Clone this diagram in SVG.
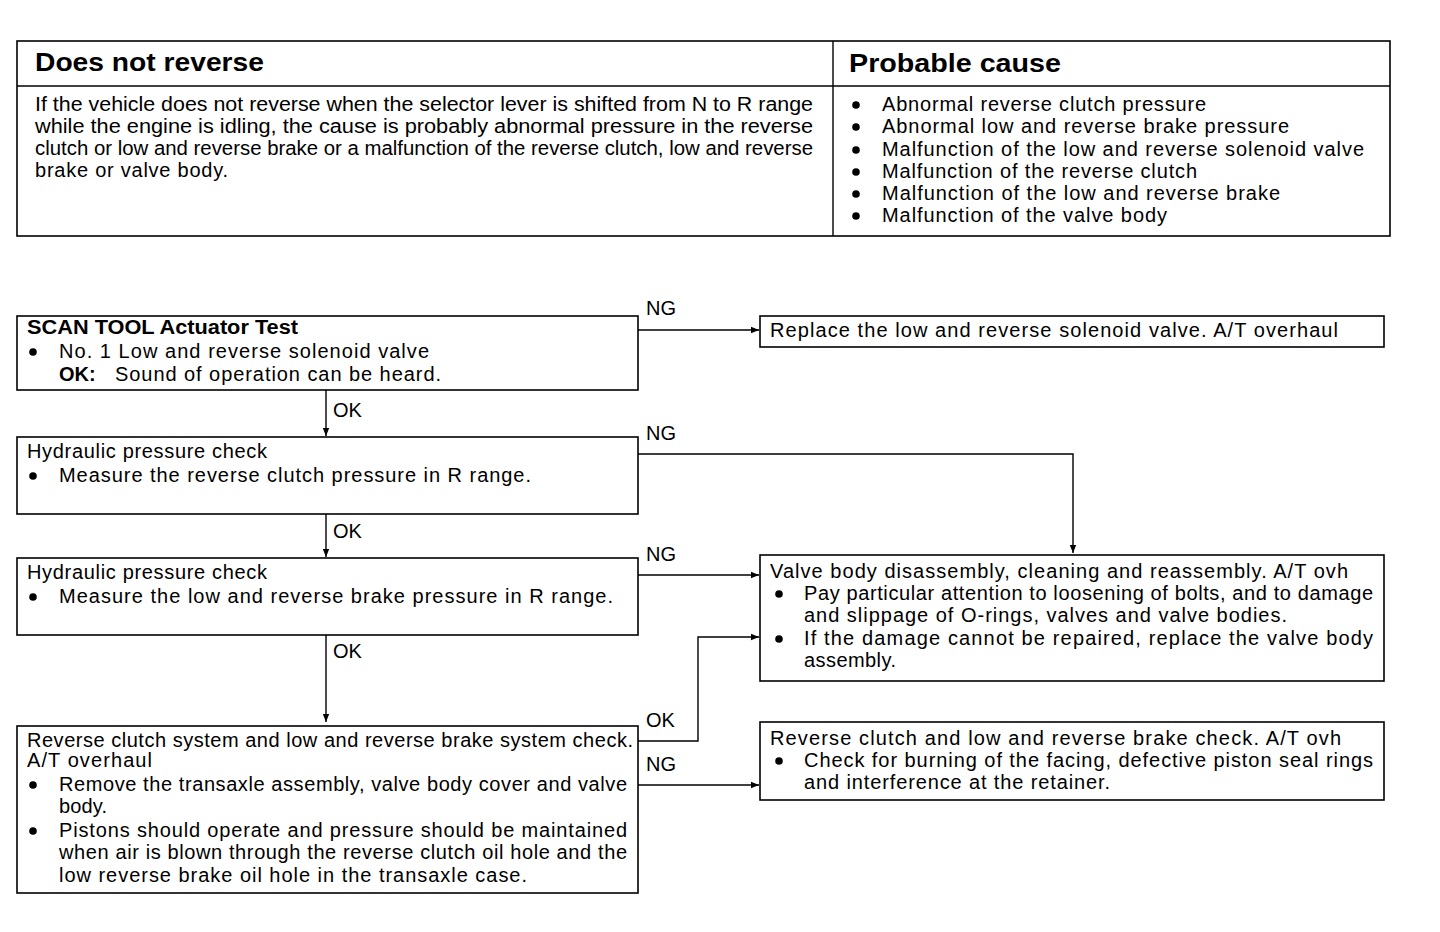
<svg xmlns="http://www.w3.org/2000/svg" width="1440" height="932" viewBox="0 0 1440 932">
<style>
text{font-family:"Liberation Sans",Arial,sans-serif;font-size:20px;fill:#000}
.h{font-size:25px;font-weight:bold}
.b{font-weight:bold}
.box{fill:#fff;stroke:#000;stroke-width:1.6}
.ln{fill:none;stroke:#000;stroke-width:1.4}
.dot{fill:#000}
</style>
<defs>
<marker id="ah" viewBox="0 0 10 10" refX="10" refY="5" markerWidth="13" markerHeight="8" markerUnits="userSpaceOnUse" orient="auto">
<path d="M0,1 L10,5 L0,9 Z" fill="#000"/>
</marker>
</defs>
<rect width="1440" height="932" fill="#fff"/>

<g id="table">
<rect class="box" x="17" y="41" width="1373" height="195" stroke-width="2"/>
<line class="ln" x1="17" y1="86" x2="1390" y2="86" stroke-width="2"/>
<line class="ln" x1="833" y1="41" x2="833" y2="236"/>
<text class="h" x="35" y="71" textLength="229" lengthAdjust="spacingAndGlyphs">Does not reverse</text>
<text class="h" x="849" y="72" textLength="212" lengthAdjust="spacingAndGlyphs">Probable cause</text>
<text x="35" y="111" textLength="778" lengthAdjust="spacingAndGlyphs">If the vehicle does not reverse when the selector lever is shifted from N to R range</text>
<text x="35" y="133" textLength="778" lengthAdjust="spacingAndGlyphs">while the engine is idling, the cause is probably abnormal pressure in the reverse</text>
<text x="35" y="155" textLength="778" lengthAdjust="spacingAndGlyphs">clutch or low and reverse brake or a malfunction of the reverse clutch, low and reverse</text>
<text x="35" y="177" textLength="193" lengthAdjust="spacing">brake or valve body.</text>
<circle class="dot" cx="856" cy="105" r="3.8"/>
<circle class="dot" cx="856" cy="127" r="3.8"/>
<circle class="dot" cx="856" cy="150" r="3.8"/>
<circle class="dot" cx="856" cy="172" r="3.8"/>
<circle class="dot" cx="856" cy="194" r="3.8"/>
<circle class="dot" cx="856" cy="216" r="3.8"/>
<text x="882" y="111" textLength="324" lengthAdjust="spacing">Abnormal reverse clutch pressure</text>
<text x="882" y="133" textLength="407" lengthAdjust="spacing">Abnormal low and reverse brake pressure</text>
<text x="882" y="156" textLength="482" lengthAdjust="spacing">Malfunction of the low and reverse solenoid valve</text>
<text x="882" y="178" textLength="315" lengthAdjust="spacing">Malfunction of the reverse clutch</text>
<text x="882" y="200" textLength="398" lengthAdjust="spacing">Malfunction of the low and reverse brake</text>
<text x="882" y="222" textLength="285" lengthAdjust="spacing">Malfunction of the valve body</text>
</g>

<g id="connectors">
<line class="ln" x1="638" y1="330" x2="759" y2="330" marker-end="url(#ah)"/>
<line class="ln" x1="326" y1="390" x2="326" y2="436" marker-end="url(#ah)"/>
<polyline class="ln" points="638,454 1073,454 1073,553" marker-end="url(#ah)"/>
<line class="ln" x1="326" y1="514" x2="326" y2="557" marker-end="url(#ah)"/>
<line class="ln" x1="638" y1="575" x2="759" y2="575" marker-end="url(#ah)"/>
<line class="ln" x1="326" y1="635" x2="326" y2="722" marker-end="url(#ah)"/>
<polyline class="ln" points="638,741 698,741 698,637 759,637" marker-end="url(#ah)"/>
<line class="ln" x1="638" y1="785" x2="759" y2="785" marker-end="url(#ah)"/>
<text x="646" y="315">NG</text>
<text x="333" y="417">OK</text>
<text x="646" y="440">NG</text>
<text x="333" y="538">OK</text>
<text x="646" y="561">NG</text>
<text x="333" y="658">OK</text>
<text x="646" y="727">OK</text>
<text x="646" y="771">NG</text>
</g>

<g id="n1">
<rect class="box" x="17" y="316" width="621" height="74"/>
<text class="b" x="27" y="334" textLength="271" lengthAdjust="spacingAndGlyphs">SCAN TOOL Actuator Test</text>
<circle class="dot" cx="33" cy="352" r="3.8"/>
<text x="59" y="358" textLength="370" lengthAdjust="spacing">No. 1 Low and reverse solenoid valve</text>
<text class="b" x="59" y="381">OK:</text>
<text x="115" y="381" textLength="326" lengthAdjust="spacing">Sound of operation can be heard.</text>
</g>

<g id="r1">
<rect class="box" x="760" y="316" width="624" height="31"/>
<text x="770" y="337" textLength="568" lengthAdjust="spacing">Replace the low and reverse solenoid valve. A/T overhaul</text>
</g>

<g id="n2">
<rect class="box" x="17" y="437" width="621" height="77"/>
<text x="27" y="458" textLength="240" lengthAdjust="spacing">Hydraulic pressure check</text>
<circle class="dot" cx="33" cy="476" r="3.8"/>
<text x="59" y="482" textLength="472" lengthAdjust="spacing">Measure the reverse clutch pressure in R range.</text>
</g>

<g id="n3">
<rect class="box" x="17" y="558" width="621" height="77"/>
<text x="27" y="579" textLength="240" lengthAdjust="spacing">Hydraulic pressure check</text>
<circle class="dot" cx="33" cy="597" r="3.8"/>
<text x="59" y="603" textLength="554" lengthAdjust="spacing">Measure the low and reverse brake pressure in R range.</text>
</g>

<g id="r2">
<rect class="box" x="760" y="555" width="624" height="126"/>
<text x="770" y="578" textLength="578" lengthAdjust="spacing">Valve body disassembly, cleaning and reassembly. A/T ovh</text>
<circle class="dot" cx="779" cy="594" r="3.8"/>
<text x="804" y="600" textLength="569" lengthAdjust="spacing">Pay particular attention to loosening of bolts, and to damage</text>
<text x="804" y="622" textLength="483" lengthAdjust="spacing">and slippage of O-rings, valves and valve bodies.</text>
<circle class="dot" cx="779" cy="639" r="3.8"/>
<text x="804" y="645" textLength="569" lengthAdjust="spacing">If the damage cannot be repaired, replace the valve body</text>
<text x="804" y="667" textLength="92" lengthAdjust="spacing">assembly.</text>
</g>

<g id="n4">
<rect class="box" x="17" y="726" width="621" height="167"/>
<text x="27" y="747" textLength="606" lengthAdjust="spacing">Reverse clutch system and low and reverse brake system check.</text>
<text x="27" y="767" textLength="125" lengthAdjust="spacing">A/T overhaul</text>
<circle class="dot" cx="33" cy="785" r="3.8"/>
<text x="59" y="791" textLength="568" lengthAdjust="spacing">Remove the transaxle assembly, valve body cover and valve</text>
<text x="59" y="813" textLength="48" lengthAdjust="spacing">body.</text>
<circle class="dot" cx="33" cy="831" r="3.8"/>
<text x="59" y="837" textLength="568" lengthAdjust="spacing">Pistons should operate and pressure should be maintained</text>
<text x="59" y="859" textLength="568" lengthAdjust="spacing">when air is blown through the reverse clutch oil hole and the</text>
<text x="59" y="882" textLength="468" lengthAdjust="spacing">low reverse brake oil hole in the transaxle case.</text>
</g>

<g id="r3">
<rect class="box" x="760" y="722" width="624" height="78"/>
<text x="770" y="745" textLength="571" lengthAdjust="spacing">Reverse clutch and low and reverse brake check. A/T ovh</text>
<circle class="dot" cx="779" cy="761" r="3.8"/>
<text x="804" y="767" textLength="569" lengthAdjust="spacing">Check for burning of the facing, defective piston seal rings</text>
<text x="804" y="789" textLength="306" lengthAdjust="spacing">and interference at the retainer.</text>
</g>
</svg>
